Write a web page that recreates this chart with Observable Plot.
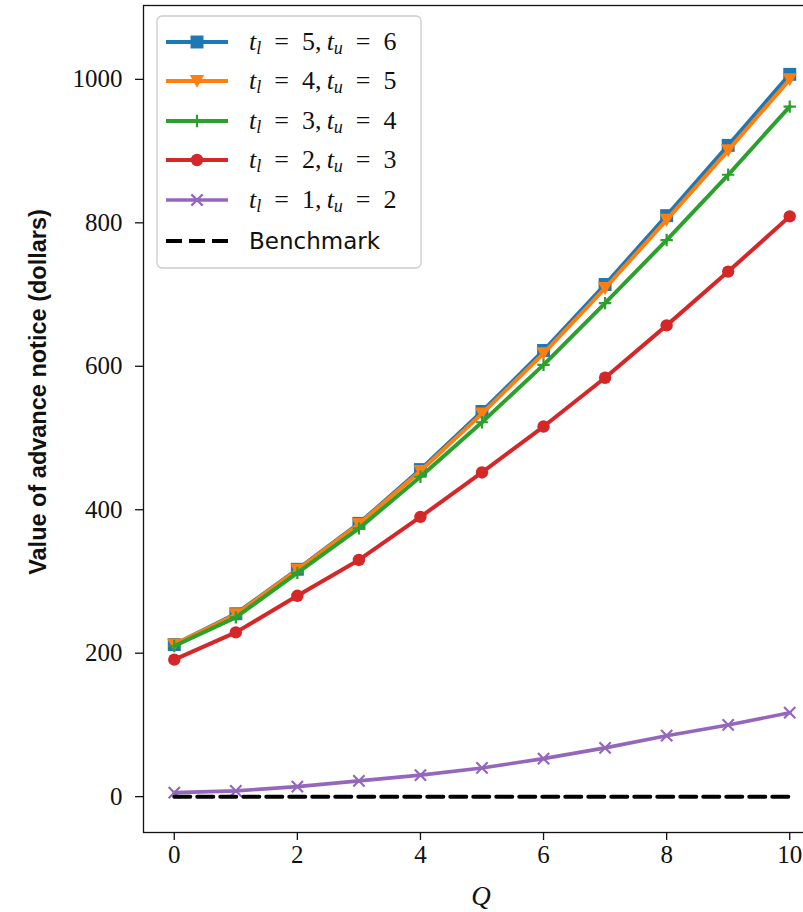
<!DOCTYPE html>
<html>
<head>
<meta charset="utf-8">
<script src="https://cdn.jsdelivr.net/npm/d3@7"></script>
<script src="https://cdn.jsdelivr.net/npm/@observablehq/plot@0.6"></script>
<style>
  html, body { margin: 0; padding: 0; background: white; overflow: hidden; }
  #chart { width: 803px; height: 912px; overflow: hidden; }
</style>
</head>
<body>
<div id="chart"></div>
<script>
// ---- data ----
const Q = [0, 1, 2, 3, 4, 5, 6, 7, 8, 9, 10];
const s56 = [212, 255, 317, 381, 456, 537, 622, 714, 810, 908, 1007];
const s45 = [212, 254, 316, 380, 454, 534, 618, 709, 804, 901, 1000];
const s34 = [210, 250, 312, 374, 446, 522, 602, 688, 776, 867, 962];
const s23 = [191, 229, 280, 330, 390, 452, 516, 584, 657, 732, 809];
const s12 = [5.6, 8, 14, 22, 30, 40, 53, 68, 85, 100, 117];
const benchmark = [0, 0, 0, 0, 0, 0, 0, 0, 0, 0, 0];
const seriesKeys = ["5-6", "4-5", "3-4", "2-3", "1-2"];
const seriesLow = [5, 4, 3, 2, 1];
const seriesUp = [6, 5, 4, 3, 2];
const seriesValues = [s56, s45, s34, s23, s12];
const colors = ["#1f77b4", "#ff7f0e", "#2ca02c", "#d62728", "#9467bd"];
const xTicks = [0, 2, 4, 6, 8, 10];
const yTicks = [0, 200, 400, 600, 800, 1000];
const yLabel = "Value of advance notice (dollars)";
const xLabel = "Q";
const benchLabel = "Benchmark";

// ---- symbols ----
const triDown = {draw(ctx, size) { const r = Math.sqrt(size / Math.PI); ctx.moveTo(-r, -r * 0.85); ctx.lineTo(r, -r * 0.85); ctx.lineTo(0, r * 0.95); ctx.closePath(); }};
const plusSym = {draw(ctx, size) { const r = Math.sqrt(size / Math.PI); ctx.moveTo(-r, 0); ctx.lineTo(r, 0); ctx.moveTo(0, -r); ctx.lineTo(0, r); }};
const timesSym = {draw(ctx, size) { const r = Math.sqrt(size / Math.PI) * 0.75; ctx.moveTo(-r, -r); ctx.lineTo(r, r); ctx.moveTo(-r, r); ctx.lineTo(r, -r); }};
const markerDefs = [
  {symbol: d3.symbolSquare, r: 7.3, filled: true},
  {symbol: triDown, r: 7.2, filled: true},
  {symbol: plusSym, r: 6.2, filled: false},
  {symbol: d3.symbolCircle, r: 6.2, filled: true},
  {symbol: timesSym, r: 7.5, filled: false}
];

const rows = seriesKeys.map((k, i) => Q.map((q, j) => ({Q: q, value: seriesValues[i][j], key: k})));
const benchRows = Q.map((q, j) => ({Q: q, value: benchmark[j]}));

const marks = [Plot.frame({stroke: "#111", strokeWidth: 1.3})];
rows.forEach((data, i) => {
  const m = markerDefs[i];
  marks.push(Plot.line(data, {x: "Q", y: "value", stroke: colors[i], strokeWidth: i === 4 ? 3.6 : 4}));
  marks.push(Plot.dot(data, {x: "Q", y: "value", symbol: () => m.symbol, r: m.r,
    fill: m.filled ? colors[i] : "none", stroke: colors[i], strokeWidth: m.filled ? 0 : 2.2}));
});
marks.push(Plot.line(benchRows, {x: "Q", y: "value", stroke: "black", strokeWidth: 4, strokeDasharray: "16,7"}));
marks.push(Plot.axisX({ticks: xTicks, tickSize: 8, tickPadding: 5, label: null, stroke: "#111", strokeWidth: 1.3, fill: "#111", tickFormat: d3.format("d")}));
marks.push(Plot.axisY({ticks: yTicks, tickSize: 8, tickPadding: 13, label: null, stroke: "#111", strokeWidth: 1.3, fill: "#111", tickFormat: d3.format("d")}));

const svgEl = Plot.plot({
  width: 803,
  height: 912,
  marginLeft: 143,
  marginRight: -17,
  marginTop: 5,
  marginBottom: 80,
  style: {fontFamily: "'Liberation Serif', serif", fontSize: "25px", background: "white", overflow: "hidden"},
  x: {domain: [-0.5, 10.5]},
  y: {domain: [-50, 1103]},
  symbol: {type: "identity"},
  marks
});
document.getElementById("chart").appendChild(svgEl);

const svg = d3.select(svgEl);
// axis titles
svg.append("text")
  .attr("transform", "translate(38,392) rotate(-90)")
  .attr("text-anchor", "middle")
  .attr("dominant-baseline", "central")
  .style("font-family", "'Liberation Sans', sans-serif")
  .style("font-weight", "bold")
  .style("font-size", "23.5px")
  .attr("fill", "#111")
  .text(yLabel);
svg.append("text")
  .attr("x", 481).attr("y", 905)
  .attr("text-anchor", "middle")
  .style("font-family", "'Liberation Serif', serif")
  .style("font-style", "italic")
  .style("font-size", "27px")
  .attr("fill", "#111")
  .text(xLabel);

// legend
const lg = svg.append("g").attr("text-anchor", "start");
lg.append("rect").attr("x", 157).attr("y", 16).attr("width", 264).attr("height", 252)
  .attr("rx", 5).attr("fill", "white").attr("fill-opacity", 0.85).attr("stroke", "#ccc").attr("stroke-width", 1.3);
const rowY = [42, 81, 121, 160, 200, 241];
seriesKeys.forEach((k, i) => {
  const y = rowY[i], m = markerDefs[i];
  lg.append("line").attr("x1", 166).attr("x2", 228).attr("y1", y).attr("y2", y)
    .attr("stroke", colors[i]).attr("stroke-width", i === 4 ? 3.6 : 4);
  lg.append("path").attr("transform", `translate(197,${y})`)
    .attr("d", d3.symbol().type(m.symbol).size(Math.PI * m.r * m.r)())
    .attr("fill", m.filled ? colors[i] : "none").attr("stroke", colors[i]).attr("stroke-width", m.filled ? 0 : 2.2);
  const t = lg.append("text").attr("x", 249).attr("y", y + 8).attr("text-anchor", "start")
    .style("font-family", "'Liberation Serif', serif").style("font-size", "26px").attr("fill", "#111");
  t.append("tspan").style("font-style", "italic").text("t");
  t.append("tspan").style("font-style", "italic").style("font-size", "18px").attr("dy", 4).text("l");
  t.append("tspan").attr("dy", -4).text(`\u2002=\u2002${seriesLow[i]},\u2009`);
  t.append("tspan").style("font-style", "italic").text("t");
  t.append("tspan").style("font-style", "italic").style("font-size", "18px").attr("dy", 4).text("u");
  t.append("tspan").attr("dy", -4).text(`\u2002=\u2002${seriesUp[i]}`);
});
lg.append("line").attr("x1", 166).attr("x2", 228).attr("y1", rowY[5]).attr("y2", rowY[5])
  .attr("stroke", "black").attr("stroke-width", 4).attr("stroke-dasharray", "16,7");
lg.append("text").attr("x", 249).attr("y", rowY[5] + 8).attr("text-anchor", "start")
  .style("font-family", "'DejaVu Sans', sans-serif").style("font-size", "23px").attr("fill", "#111")
  .text(benchLabel);
</script>
</body>
</html>
